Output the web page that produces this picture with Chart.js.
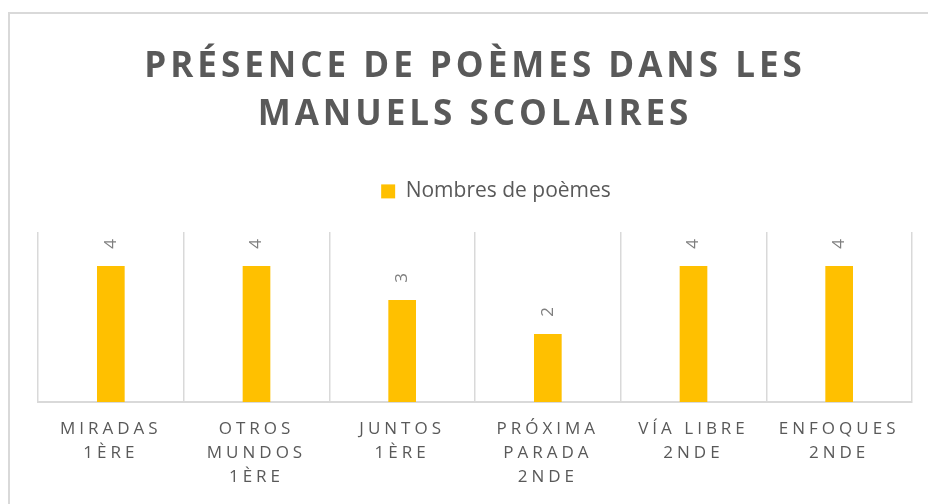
<!DOCTYPE html>
<html>
<head>
<meta charset="utf-8">
<script src="https://cdn.jsdelivr.net/npm/chart.js@4/dist/chart.umd.min.js"></script>
<style>
  html, body { margin: 0; padding: 0; background: #fff; overflow: hidden; }
  #wrap { position: relative; width: 928px; height: 504px; }
  #frame { position: absolute; left: 8px; top: 12px; width: 960px; height: 540px; border: 2px solid #d9d9d9; pointer-events: none; }
  canvas { position: absolute; left: 0; top: 0; }
</style>
</head>
<body>
<div id="wrap">
  <div id="frame"></div>
  <canvas id="myChart" width="928" height="504"></canvas>
</div>
<script>
// data
const manuels = [
  ['MIRADAS', '1ÈRE'],
  ['OTROS', 'MUNDOS', '1ÈRE'],
  ['JUNTOS', '1ÈRE'],
  ['PRÓXIMA', 'PARADA', '2NDE'],
  ['VÍA LIBRE', '2NDE'],
  ['ENFOQUES', '2NDE']
];
const nbPoemes = [4, 4, 3, 2, 4, 4];
const titre = ['PRÉSENCE DE POÈMES DANS LES', 'MANUELS SCOLAIRES'];
const serie = 'Nombres de poèmes';

const gris = '#595959';

// values written vertically above each bar
const valeurs = {
  id: 'valeurs',
  afterDatasetsDraw(chart) {
    const ctx = chart.ctx;
    const meta = chart.getDatasetMeta(0);
    ctx.save();
    ctx.font = '17px "Open Sans"';
    ctx.fillStyle = '#7f7f7f';
    ctx.textAlign = 'center';
    ctx.textBaseline = 'middle';
    meta.data.forEach((bar, i) => {
      ctx.save();
      ctx.translate(bar.x, bar.y - 22);
      ctx.rotate(-Math.PI / 2);
      ctx.fillText(String(chart.data.datasets[0].data[i]), 0, 0);
      ctx.restore();
    });
    ctx.restore();
  }
};

// legend sits a bit right of centre, like in Excel
const decaleLegende = {
  id: 'decaleLegende',
  afterLayout(chart) {
    if (chart.legend) chart.legend.left += 42;
  }
};

const ctx = document.getElementById('myChart');

const chart = new Chart(ctx, {
  type: 'bar',
  data: {
    labels: manuels,
    datasets: [{
      label: serie,
      data: nbPoemes,
      backgroundColor: '#FFC000',
      borderWidth: 0,
      categoryPercentage: 1,
      barPercentage: 0.19
    }]
  },
  options: {
    responsive: false,
    animation: false,
    layout: { padding: { left: 38, right: 16, top: 14, bottom: 0 } },
    plugins: {
      title: {
        display: true,
        text: titre,
        color: gris,
        font: { family: '"Open Sans"', size: 35, weight: 'bold', lineHeight: 1.37 },
        padding: { top: 29, bottom: 22 }
      },
      legend: {
        display: true,
        labels: {
          color: gris,
          font: { family: '"Open Sans"', size: 21 },
          boxWidth: 14,
          boxHeight: 14,
          padding: 20
        }
      },
      tooltip: { enabled: false }
    },
    scales: {
      x: {
        offset: true,
        grid: { display: true, offset: true, color: '#d9d9d9', lineWidth: 1.5, drawTicks: false },
        border: { display: true, color: '#d9d9d9', width: 2 },
        ticks: {
          color: gris,
          font: { family: '"Open Sans"', size: 17, lineHeight: 1.41 },
          padding: 15,
          maxRotation: 0,
          autoSkip: false
        }
      },
      y: {
        display: false,
        min: 0,
        max: 5
      }
    }
  },
  plugins: [valeurs, decaleLegende]
});

// Excel-style letter spacing for title and category labels
function espacer(obj, meth, px) {
  const orig = obj[meth].bind(obj);
  obj[meth] = function (...args) {
    const c = chart.ctx;
    const prev = c.letterSpacing;
    c.letterSpacing = px;
    orig(...args);
    c.letterSpacing = prev;
  };
}
espacer(chart.titleBlock, 'draw', '4px');
espacer(chart.scales.x, 'drawLabels', '4px');

// more room between legend and plot
const fitLegende = chart.legend.fit.bind(chart.legend);
chart.legend.fit = function () {
  fitLegende();
  this.height += 20;
};
chart.update();
</script>
</body>
</html>
